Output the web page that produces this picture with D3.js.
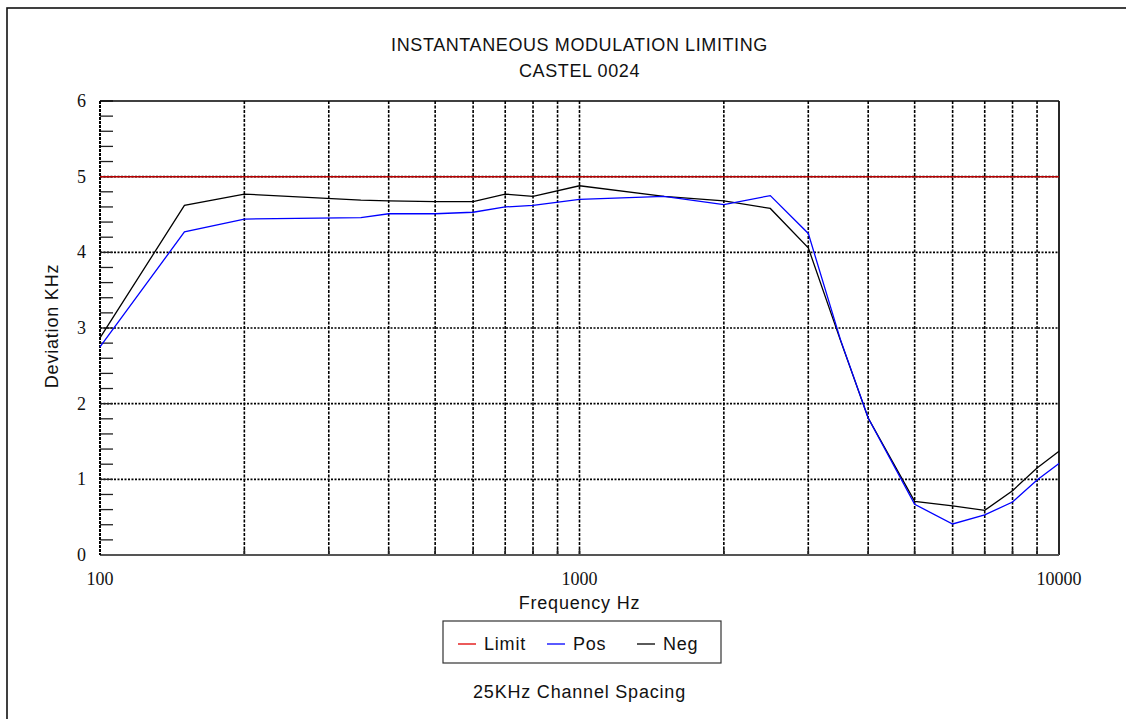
<!DOCTYPE html>
<html><head><meta charset="utf-8">
<script src="https://cdn.jsdelivr.net/npm/d3@7"></script>
<style>body{margin:0;background:#fff}svg{display:block}</style>
</head><body><svg id="c" width="1126" height="719"></svg>
<script>
const freqs = [100,150,200,350,400,500,600,700,800,1000,1500,2000,2500,3000,3500,4000,5000,6000,7000,8000,9000,10000];
const pos   = [2.75,4.27,4.44,4.46,4.51,4.51,4.53,4.60,4.62,4.70,4.74,4.63,4.75,4.25,2.85,1.81,0.67,0.41,0.53,0.70,0.99,1.21];
const neg   = [2.87,4.62,4.77,4.69,4.68,4.67,4.67,4.77,4.74,4.88,4.74,4.68,4.58,4.06,2.84,1.81,0.71,0.65,0.59,0.85,1.15,1.37];
const limit = 5;
const yTicks = [0,1,2,3,4,5,6];
const xTickLabels = [100,1000,10000];
const titleLines = ["INSTANTANEOUS MODULATION LIMITING","CASTEL 0024"];
const legendItems = [{name:"Limit",color:"#e00000"},{name:"Pos",color:"#0000ff"},{name:"Neg",color:"#000000"}];

const svg = d3.select("#c");
const L=100,R=1059,T=101,B=555;
const x = d3.scaleLog().domain([100,10000]).range([L,R]);
const y = d3.scaleLinear().domain([0,6]).range([B,T]);
const sans = "'Liberation Sans', Arial, sans-serif";
const serif = "'Liberation Serif', 'Times New Roman', serif";
const txt = (sel)=>sel.attr("font-family",sans).attr("font-size",18).attr("letter-spacing",0.8).attr("fill","#111");

// outer frame
svg.append("rect").attr("x",7).attr("y",8).attr("width",1140).attr("height",730)
  .attr("fill","none").attr("stroke","#111").attr("stroke-width",1.6);

// title
svg.selectAll(".title").data(titleLines).join("text")
  .attr("x",(L+R)/2).attr("y",(d,i)=>51+i*26).attr("text-anchor","middle")
  .call(txt).attr("letter-spacing",0.6).text(d=>d);

// vertical grid
const minor = [];
for (let dec=100; dec<10000; dec*=10) for (let k=2;k<=9;k++) minor.push(dec*k);
minor.push(1000);
svg.append("g").selectAll("line").data(minor).join("line")
  .attr("x1",d=>x(d)).attr("x2",d=>x(d)).attr("y1",T).attr("y2",B)
  .attr("stroke","#000").attr("stroke-width",1.6).attr("stroke-dasharray","3,1.5");

// horizontal grid
svg.append("g").selectAll("line").data([1,2,3,4,5]).join("line")
  .attr("x1",L).attr("x2",R).attr("y1",d=>y(d)).attr("y2",d=>y(d))
  .attr("stroke","#000").attr("stroke-width",1.6).attr("stroke-dasharray","2,1.5");

// y minor ticks
const yMinor = d3.range(0,31).map(i=>i*0.2);
svg.append("g").selectAll("line").data(yMinor).join("line")
  .attr("x1",L).attr("x2",L+13).attr("y1",d=>y(d)).attr("y2",d=>y(d))
  .attr("stroke","#222").attr("stroke-width",1.3);

// bottom ticks
svg.append("g").selectAll("line").data(minor).join("line")
  .attr("x1",d=>x(d)).attr("x2",d=>x(d)).attr("y1",B).attr("y2",B-6)
  .attr("stroke","#222").attr("stroke-width",1.6);

// frame lines
svg.append("line").attr("x1",L).attr("x2",R).attr("y1",T).attr("y2",T).attr("stroke","#000").attr("stroke-width",1.6);
svg.append("line").attr("x1",R).attr("x2",R).attr("y1",T).attr("y2",B).attr("stroke","#111").attr("stroke-width",1.8);
svg.append("line").attr("x1",L).attr("x2",R).attr("y1",B).attr("y2",B).attr("stroke","#555").attr("stroke-width",2);
svg.append("line").attr("x1",L).attr("x2",L).attr("y1",T).attr("y2",B).attr("stroke","#000").attr("stroke-width",2).attr("stroke-dasharray","3,1");

// limit
svg.append("line").attr("x1",L).attr("x2",R).attr("y1",y(limit)).attr("y2",y(limit))
  .attr("stroke","#b80000").attr("stroke-width",1.5);

const line = d3.line().x(d=>x(d[0])).y(d=>y(d[1]));
svg.append("path").datum(freqs.map((f,i)=>[f,neg[i]])).attr("d",line)
  .attr("fill","none").attr("stroke","#000").attr("stroke-width",1.3);
svg.append("path").datum(freqs.map((f,i)=>[f,pos[i]])).attr("d",line)
  .attr("fill","none").attr("stroke","#0000ff").attr("stroke-width",1.3);

// y labels
svg.append("g").selectAll("text").data(yTicks).join("text")
  .attr("x",86).attr("y",d=>y(d)+6).attr("text-anchor","end")
  .attr("font-family",serif).attr("font-size",18).attr("fill","#111").text(d=>d);
// x labels
svg.append("g").selectAll("text").data(xTickLabels).join("text")
  .attr("x",d=>x(d)).attr("y",585).attr("text-anchor","middle")
  .attr("font-family",serif).attr("font-size",18).attr("fill","#111").text(d=>d);

svg.append("text").attr("transform",`translate(58,326) rotate(-90)`).attr("text-anchor","middle")
  .call(txt).text("Deviation KHz");
svg.append("text").attr("x",(L+R)/2).attr("y",609).attr("text-anchor","middle")
  .call(txt).text("Frequency Hz");

// legend
const lg = svg.append("g");
lg.append("rect").attr("x",443).attr("y",621).attr("width",278).attr("height",42)
  .attr("fill","#fff").attr("stroke","#333").attr("stroke-width",1.2);
const lx=[458,547,637];
legendItems.forEach((d,i)=>{
  lg.append("line").attr("x1",lx[i]).attr("x2",lx[i]+18).attr("y1",644).attr("y2",644)
    .attr("stroke",d.color).attr("stroke-width",1.3);
  lg.append("text").attr("x",lx[i]+26).attr("y",650).call(txt).text(d.name);
});
svg.append("text").attr("x",(L+R)/2).attr("y",698).attr("text-anchor","middle")
  .call(txt).text("25KHz Channel Spacing");
</script></body></html>
